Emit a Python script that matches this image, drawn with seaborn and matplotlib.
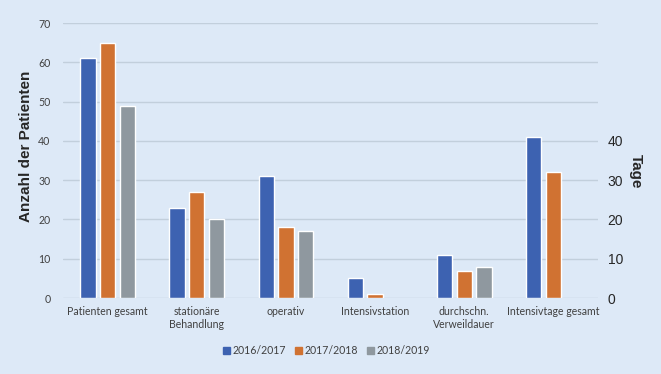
import numpy as np
import pandas as pd
import matplotlib
matplotlib.use("Agg")
import matplotlib.pyplot as plt
import seaborn as sns

# Daten
kategorien = ["Patienten gesamt", "stationäre\nBehandlung", "operativ",
              "Intensivstation", "durchschn.\nVerweildauer", "Intensivtage gesamt"]
jahre = ["2016/2017", "2017/2018", "2018/2019"]
werte_2016 = [61, 23, 31, 5, 11, 41]
werte_2017 = [65, 27, 18, 1, 7, 32]
werte_2018 = [49, 20, 17, np.nan, 8, np.nan]
farben = ["#3d62b1", "#d07232", "#8f989f"]
bg = "#dde9f7"

rows = []
for jahr, werte in zip(jahre, [werte_2016, werte_2017, werte_2018]):
    for k, w in zip(kategorien, werte):
        rows.append({"Kategorie": k, "Jahr": jahr, "Wert": w})
df = pd.DataFrame(rows)

sns.set_style("white")
plt.rcParams["font.family"] = ["Lato", "DejaVu Sans"]

fig = plt.figure(figsize=(6.61, 3.74), dpi=100, facecolor=bg)
ax = fig.add_axes([0.0953, 0.2032, 0.8094, 0.7353])
ax.set_facecolor(bg)

sns.barplot(data=df, x="Kategorie", y="Wert", hue="Jahr", order=kategorien,
            hue_order=jahre, palette=farben, width=0.66, gap=0.22,
            ax=ax, legend=False, saturation=1)

ax.set_ylim(0, 70)
ax.set_xlim(-0.5, 5.5)
ax.set_yticks(range(0, 80, 10))
ax.grid(axis="y", color="#c2cfdc", linewidth=1)
ax.set_axisbelow(True)
for s in ax.spines.values():
    s.set_visible(False)
ax.tick_params(axis="both", length=0, labelsize=7.6, colors="#404040")
ax.tick_params(axis="y", pad=9)
ax.tick_params(axis="x", pad=6)
ax.set_xlabel("")
ax.set_ylabel("Anzahl der Patienten", fontsize=11, fontweight="bold",
              family="Liberation Sans", va="center")
ax.yaxis.set_label_coords(-0.070, 0.55)

ax2 = ax.twinx()
ax2.set_ylim(0, 70)
ax2.set_yticks(range(0, 50, 10))
for s in ax2.spines.values():
    s.set_visible(False)
ax2.tick_params(axis="y", length=0, labelsize=10, pad=7)
for t in ax2.get_yticklabels():
    t.set_family("Liberation Sans")
ax2.set_ylabel("Tage", fontsize=11, fontweight="bold", family="Liberation Sans",
               rotation=270, va="center")
ax2.yaxis.set_label_coords(1.071, 0.46)

handles = [plt.Rectangle((0, 0), 1, 1, color=c) for c in farben]
fig.legend(handles, jahre, loc="center", bbox_to_anchor=(0.494, 0.063), ncol=3,
           frameon=False, fontsize=7.6, handlelength=0.6, handleheight=0.6,
           handletextpad=0.25, columnspacing=0.9, labelcolor="#404040")

fig.savefig("out.png", dpi=100, facecolor=bg)
